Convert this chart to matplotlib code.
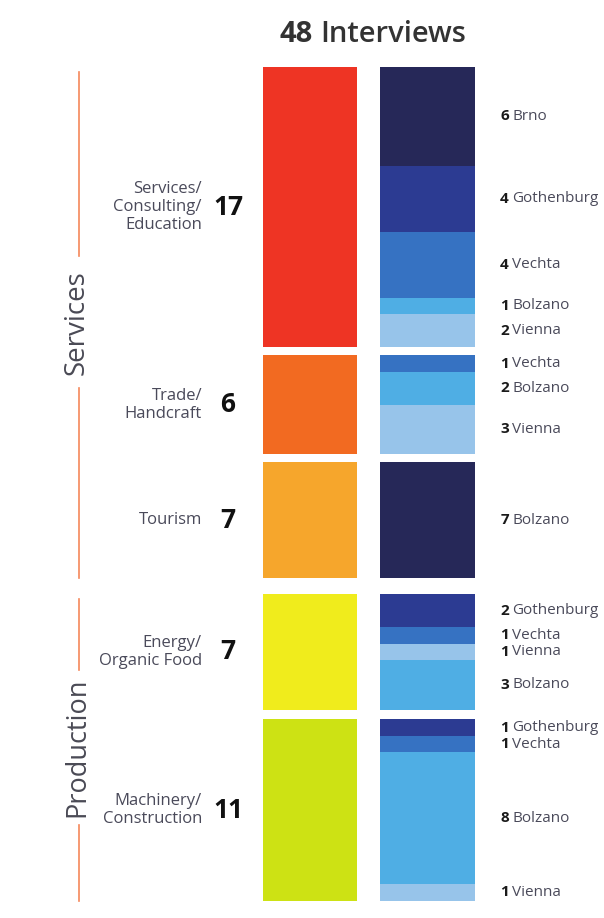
import numpy as np
import matplotlib
matplotlib.use("Agg")
import matplotlib.pyplot as plt

plt.rcParams['font.family'] = ['Open Sans', 'DejaVu Sans']

# sectors (left column)
sectors = ["Services/\nConsulting/\nEducation", "Trade/\nHandcraft", "Tourism",
           "Energy/\nOrganic Food", "Machinery/\nConstruction"]
sector_counts = [17, 6, 7, 7, 11]
sector_colors = ["#ee3424", "#f26a21", "#f6a62c", "#f0ec1c", "#cde214"]

# city breakdown (right column), top to bottom in each sector
city_names = [
    ["Brno", "Gothenburg", "Vechta", "Bolzano", "Vienna"],
    ["Vechta", "Bolzano", "Vienna"],
    ["Bolzano"],
    ["Gothenburg", "Vechta", "Vienna", "Bolzano"],
    ["Gothenburg", "Vechta", "Bolzano", "Vienna"],
]
city_counts = [
    [6, 4, 4, 1, 2],
    [1, 2, 3],
    [7],
    [2, 1, 1, 3],
    [1, 1, 8, 1],
]
city_colors = {"Brno": "#262858", "Gothenburg": "#2c3b92", "Vechta": "#3672c2",
               "Bolzano": "#4faee4", "Vienna": "#97c4ea"}
# tourism block is drawn in the dark navy in the original
color_override = {(2, "Bolzano"): "#262858"}

groups = ["Services", "Production"]
group_members = [[0, 1, 2], [3, 4]]

total = sum(sector_counts)

# gap after each sector (in interview units)
gaps = [0.5, 0.5, 1.0, 0.6]

fig = plt.figure(figsize=(6.04, 9.18), dpi=100, facecolor="white")
ax = fig.add_axes([0, 0, 1, 1 - 9 / 918])
ax.set_facecolor("#fcfbfa")
ax.set_xlim(0, 604)
ax.set_ylim(51.65, -3.52)
ax.axis("off")
ax.patch.set_visible(True)

tops = np.concatenate([[0], np.cumsum(np.array(sector_counts[:-1]) + np.array(gaps))])

label_color = "#4a4a5a"
for i, (name, cnt) in enumerate(zip(sectors, sector_counts)):
    top = tops[i]
    ax.bar(310, cnt, width=94, bottom=top, color=sector_colors[i], align="center")
    mid = top + cnt / 2
    ax.text(202, mid, name, ha="right", va="center", fontsize=12,
            color=label_color, linespacing=1.15)
    ax.text(228, mid, str(cnt), ha="center", va="center", fontsize=19,
            fontweight="bold", color="#111111")

    y = top
    for city, c in zip(city_names[i], city_counts[i]):
        col = color_override.get((i, city), city_colors[city])
        ax.bar(427, c, width=95, bottom=y, color=col, align="center")
        ym = y + c / 2
        ax.text(509, ym, str(c), ha="right", va="center", fontsize=11,
                fontweight="bold", color="#1a1a1a")
        ax.text(512, ym, city, ha="left", va="center", fontsize=11,
                color=label_color)
        y += c

# group brackets on the left
gap_half = [4.0, 4.7]
line_color = "#f5875a"
for g, members in enumerate(group_members):
    g_top = tops[members[0]]
    g_bot = tops[members[-1]] + sector_counts[members[-1]]
    g_mid = (g_top + g_bot) / 2
    ax.plot([79, 79], [g_top + 0.3, g_mid - gap_half[g]], color=line_color, lw=1.2)
    ax.plot([79, 79], [g_mid + gap_half[g], g_bot], color=line_color, lw=1.2)
    ax.text(77, g_mid, groups[g], rotation=90, ha="center", va="center",
            fontsize=20 if g == 0 else 19.5, color="#4a4a55")

# title
fig.text(313 / 604, 1 - 35 / 918, str(total), ha="right", va="center",
         fontsize=21, fontweight="bold", color="#333333")
fig.text(320 / 604, 1 - 35 / 918, "Interviews", ha="left", va="center",
         fontsize=21, fontweight="semibold", color="#333333")

fig.savefig("out.png", dpi=100, facecolor=fig.get_facecolor())
